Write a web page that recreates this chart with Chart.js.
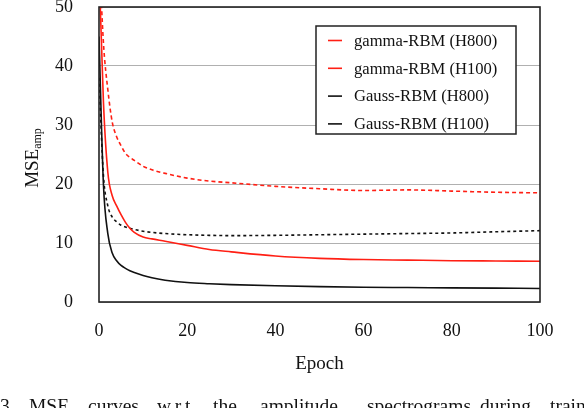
<!DOCTYPE html>
<html>
<head>
<meta charset="utf-8">
<script src="https://cdn.jsdelivr.net/npm/chart.js@4.4.0/dist/chart.umd.min.js"></script>
<style>
  html, body { margin: 0; padding: 0; background: #fff; }
  #wrap { width: 584px; height: 408px; }
</style>
</head>
<body>
<div id="wrap"><canvas id="chart" width="584" height="408"></canvas></div>
<script>
// values (epoch -> MSE_amp)
var epochs    = [0, 1, 2, 3, 4, 5, 6, 7, 8, 10, 12, 15, 20, 25, 30, 40, 50, 60, 70, 80, 90, 100];
var gammaH800 = [57, 34, 22, 18, 16.3, 14.8, 13.5, 12.5, 11.8, 11.0, 10.7, 10.3, 9.6, 8.9, 8.5, 7.8, 7.4, 7.2, 7.1, 7.0, 6.95, 6.9];
var gammaH100 = [60, 44, 36, 30.5, 28, 26.5, 25.2, 24.5, 24.0, 23.0, 22.4, 21.8, 21.0, 20.5, 20.2, 19.6, 19.2, 18.9, 19.0, 18.8, 18.6, 18.5];
var gaussH800 = [45, 20, 11.6, 8.3, 7.0, 6.2, 5.7, 5.3, 5.0, 4.5, 4.1, 3.7, 3.3, 3.1, 2.95, 2.75, 2.6, 2.5, 2.45, 2.4, 2.35, 2.3];
var gaussH100 = [38, 21.5, 16.3, 14.4, 13.6, 13.0, 12.7, 12.5, 12.3, 12.0, 11.8, 11.6, 11.4, 11.3, 11.25, 11.3, 11.4, 11.5, 11.6, 11.7, 11.9, 12.1];
var seriesNames = ['gamma-RBM (H800)', 'gamma-RBM (H100)', 'Gauss-RBM (H800)', 'Gauss-RBM (H100)'];
var yTicks = [0, 10, 20, 30, 40, 50];
var xTicks = [0, 20, 40, 60, 80, 100];
var xTitle = 'Epoch';
var yTitle = 'MSE';
var yTitleSub = 'amp';
var captionWords = ['3.', 'MSE', 'curves', 'w.r.t.', 'the', 'amplitude', 'spectrograms', 'during', 'training'];

var SERIF = '"Liberation Serif", "DejaVu Serif", serif';
var RED = '#ff1f14';
var BLACK = '#111';

function pts(ys) {
  return epochs.map((e, i) => ({ x: e, y: ys[i] }));
}

function ds(label, ys, color, dash) {
  return {
    label: label,
    data: pts(ys),
    borderColor: color,
    borderWidth: 1.6,
    borderDash: dash,
    pointRadius: 0,
    fill: false,
    cubicInterpolationMode: 'monotone'
  };
}

// frame, titles, legend box and caption
var decor = {
  id: 'decor',
  afterDatasetsDraw(chart) {
    var ctx = chart.ctx;
    var a = chart.chartArea;
    ctx.save();
    ctx.strokeStyle = '#222';
    ctx.lineWidth = 1.6;
    ctx.strokeRect(a.left, a.top, a.right - a.left, a.bottom - a.top);

    // y title with subscript
    ctx.fillStyle = '#111';
    ctx.translate(33, 158);
    ctx.rotate(-Math.PI / 2);
    ctx.font = '19px ' + SERIF;
    var w1 = ctx.measureText(yTitle).width;
    ctx.font = '12px ' + SERIF;
    var w2 = ctx.measureText(yTitleSub).width;
    var x0 = -(w1 + w2) / 2;
    ctx.textBaseline = 'middle';
    ctx.textAlign = 'left';
    ctx.font = '19px ' + SERIF;
    ctx.fillText(yTitle, x0, 0);
    ctx.font = '12px ' + SERIF;
    ctx.fillText(yTitleSub, x0 + w1, 5);
    ctx.restore();

    ctx.save();
    ctx.fillStyle = '#111';
    ctx.font = '19px ' + SERIF;
    ctx.textAlign = 'center';
    ctx.textBaseline = 'middle';
    ctx.fillText(xTitle, (a.left + a.right) / 2, 364);

    // legend
    ctx.fillStyle = '#fff';
    ctx.fillRect(316, 26, 200, 108);
    ctx.strokeStyle = '#222';
    ctx.lineWidth = 1.5;
    ctx.strokeRect(316, 26, 200, 108);
    ctx.font = '16.6px ' + SERIF;
    ctx.textAlign = 'left';
    chart.data.datasets.forEach((d, i) => {
      var y = 40.5 + i * 27.8;
      ctx.strokeStyle = d.borderColor;
      ctx.lineWidth = 1.6;
      ctx.setLineDash([]);
      ctx.beginPath();
      ctx.moveTo(328, y);
      ctx.lineTo(342, y);
      ctx.stroke();
      ctx.fillStyle = '#111';
      ctx.fillText(d.label, 354, y + 1);
    });

    // caption (cropped at the bottom of the picture)
    var capX = [0, 29, 88, 157, 213, 260, 367, 480, 550];
    ctx.font = '19.5px ' + SERIF;
    ctx.textBaseline = 'alphabetic';
    captionWords.forEach((w, i) => ctx.fillText(w, capX[i], 412));
    ctx.restore();
  }
};

new Chart(document.getElementById('chart'), {
  type: 'line',
  data: {
    datasets: [
      ds(seriesNames[0], gammaH800, RED, []),
      ds(seriesNames[1], gammaH100, RED, [4, 3]),
      ds(seriesNames[2], gaussH800, BLACK, []),
      ds(seriesNames[3], gaussH100, BLACK, [3, 3])
    ]
  },
  options: {
    responsive: false,
    animation: false,
    layout: { padding: { top: 7, right: 44, left: 0, bottom: 0 } },
    plugins: {
      legend: { display: false },
      tooltip: { enabled: false }
    },
    scales: {
      x: {
        type: 'linear',
        min: 0,
        max: 100,
        afterFit(s) { s.height = 106; s.paddingLeft = 0; s.paddingRight = 0; },
        afterBuildTicks(s) { s.ticks = xTicks.map(v => ({ value: v })); },
        grid: { display: false, drawTicks: false },
        border: { display: false },
        ticks: { padding: 18, color: '#111', font: { family: SERIF, size: 18 } }
      },
      y: {
        min: 0,
        max: 50,
        afterFit(s) { s.width = 99; s.paddingTop = 0; s.paddingBottom = 0; },
        afterBuildTicks(s) { s.ticks = yTicks.map(v => ({ value: v })); },
        grid: { color: '#b0b0b0', lineWidth: 1, drawTicks: false },
        border: { display: false },
        ticks: { padding: 26, color: '#111', font: { family: SERIF, size: 18 } }
      }
    }
  },
  plugins: [decor]
});
</script>
</body>
</html>
